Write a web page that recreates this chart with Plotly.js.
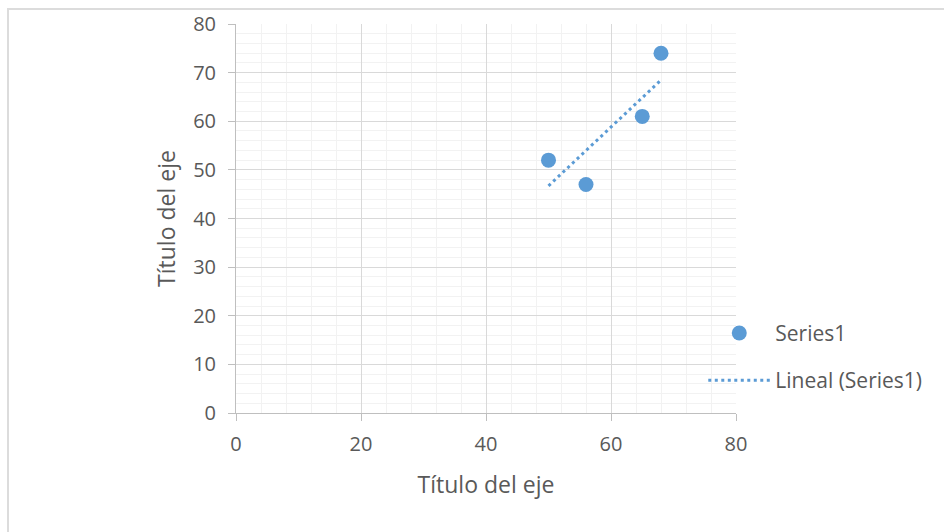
<!DOCTYPE html>
<html><head><meta charset="utf-8">
<script src="https://cdn.plot.ly/plotly-3.0.1.min.js"></script>
<style>
html,body{margin:0;padding:0;background:#fff;}
#frame{position:absolute;left:7px;top:8px;width:960px;height:560px;border:2px solid #dcdcdc;box-sizing:border-box;}
#chart{position:absolute;left:0;top:0;width:944px;height:532px;}
</style></head>
<body><div id="frame"></div><div id="chart"></div>
<script>
const xValues = [50, 56, 65, 68];
const yValues = [52, 47, 61, 74];
const seriesName = 'Series1';
const trendName = 'Lineal (Series1)';
const axisTitle = 'Título del eje';

// least-squares linear trendline (as Excel computes it)
const n = xValues.length;
const mx = xValues.reduce((a,b)=>a+b,0)/n;
const my = yValues.reduce((a,b)=>a+b,0)/n;
let sxy=0, sxx=0;
for (let i=0;i<n;i++){ sxy += (xValues[i]-mx)*(yValues[i]-my); sxx += (xValues[i]-mx)**2; }
const slope = sxy/sxx, intercept = my - slope*mx;
const tx = [Math.min(...xValues), Math.max(...xValues)];
const ty = tx.map(x => intercept + slope*x);

const blue = '#5B9BD5';
const font = {family: '"Open Sans", "Noto Sans", sans-serif', color: '#595959'};

const data = [
  {x: xValues, y: yValues, type: 'scatter', mode: 'markers', name: seriesName,
   legendgroup: 'a',
   marker: {color: blue, size: 15}},
  {x: tx, y: ty, type: 'scatter', mode: 'lines', name: trendName,
   legendgroup: 'b',
   line: {color: blue, width: 3, dash: '3px,3.5px'}}
];

const axisCommon = {
  showline: true, linecolor: '#bfbfbf', linewidth: 1,
  gridcolor: '#d9d9d9', gridwidth: 1,
  ticks: 'outside', ticklen: 7, tickcolor: '#bfbfbf',
  zeroline: false, fixedrange: true, automargin: false,
  tickfont: Object.assign({size: 20}, font)
};

const layout = {
  width: 944, height: 532,
  paper_bgcolor: 'rgba(0,0,0,0)', plot_bgcolor: '#fff',
  margin: {l: 236, r: 208, t: 24, b: 119, autoexpand: false},
  showlegend: true,
  legend: {xref: 'container', yref: 'container', x: 0.745, y: 0.412, xanchor: 'left', yanchor: 'top',
           font: Object.assign({size: 21}, font), itemwidth: 62, tracegroupgap: 17,
           bgcolor: 'rgba(0,0,0,0)'},
  xaxis: Object.assign({}, axisCommon, {
    range: [0, 80], dtick: 20, tick0: 0, ticklabelstandoff: 6,
    minor: {dtick: 4, showgrid: true, gridcolor: '#f2f2f2', gridwidth: 1},
    title: {text: axisTitle, font: Object.assign({size: 23}, font), standoff: 20}
  }),
  yaxis: Object.assign({}, axisCommon, {
    range: [0, 80], dtick: 10, tick0: 0, ticklabelstandoff: 8,
    minor: {dtick: 2, showgrid: true, gridcolor: '#f2f2f2', gridwidth: 1},
    title: {text: axisTitle, font: Object.assign({size: 23}, font), standoff: 11}
  })
};

Plotly.newPlot('chart', data, layout, {staticPlot: true, displayModeBar: false});
</script></body></html>
